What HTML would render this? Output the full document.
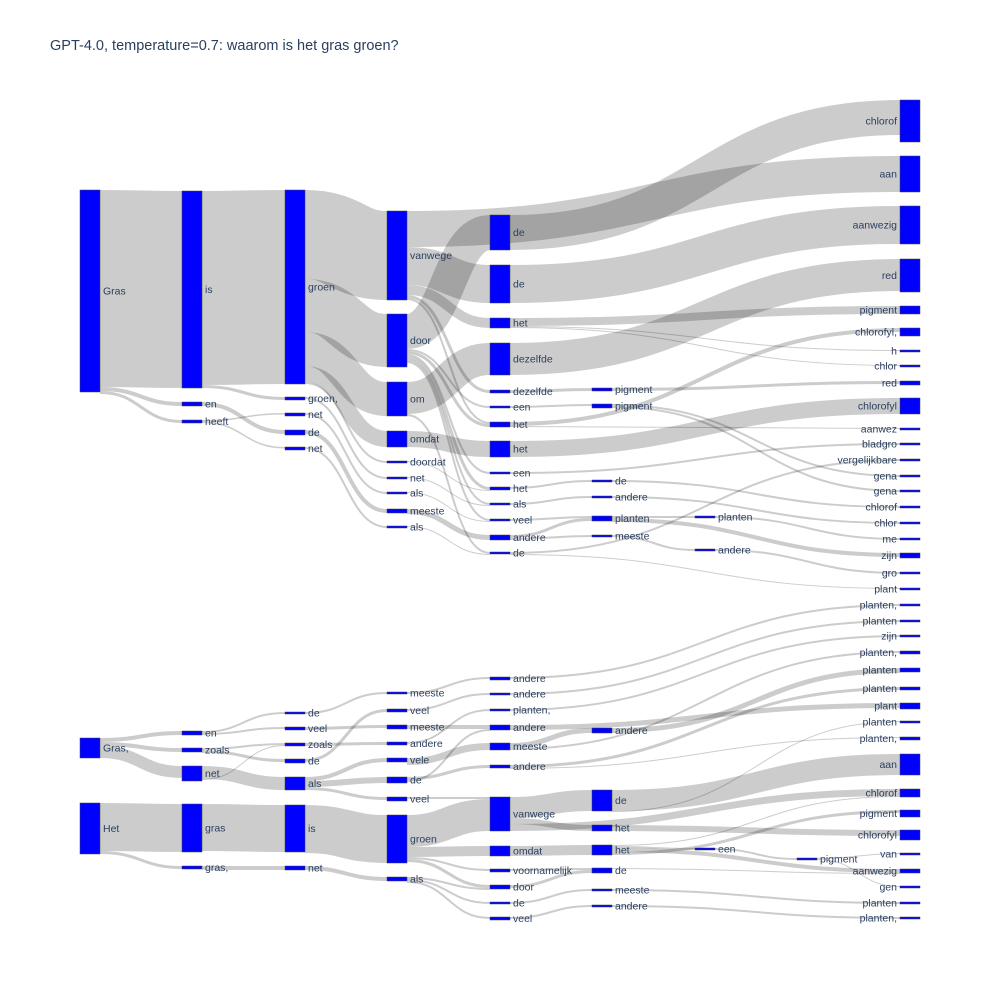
<!DOCTYPE html>
<html><head><meta charset="utf-8"><style>
html,body{margin:0;padding:0;background:#fff}
svg{display:block}
text{font-family:"Liberation Sans",Arial,sans-serif;font-size:10.5px;fill:#2a3f5f}
</style></head><body>
<svg id="s" width="1000" height="1000" xmlns="http://www.w3.org/2000/svg">
<text x="50" y="50" style="font-size:14.5px">GPT-4.0, temperature=0.7: waarom is het gras groen?</text>
<g id="L"></g><g id="N"></g>
</svg>
<script>
const X=[80,182,285,387,490,592,695,797,900];
const nodes={};
function n(id,c,y0,y1,l){nodes[id]={c:c,y0:y0,y1:Math.max(y1,y0+2),l:l,so:0,to:0};}
n('A',0,190,392,'Gras');n('B',0,738,758,'Gras,');n('C',0,803,854,'Het');
n('D',1,191,388,'is');n('E',1,402,406,'en');n('F',1,420,423,'heeft');n('G',1,731,735,'en');n('H',1,748,752,'zoals');n('I',1,766,781,'net');n('J',1,804,852,'gras');n('K',1,866,869,'gras,');
n('L',2,190,384,'groen');n('M',2,397,400,'groen,');n('N2',2,413,416,'net');n('O',2,430,435,'de');n('P',2,447,450,'net');n('Q',2,712,714,'de');n('R',2,727,730,'veel');n('S',2,743,746,'zoals');n('T',2,759,763,'de');n('U',2,777,790,'als');n('V',2,805,852,'is');n('W',2,866,870,'net');
n('X3',3,211,300,'vanwege');n('Y3',3,314,367,'door');n('Z3',3,382,416,'om');n('AA',3,431,447,'omdat');n('AB',3,461,463,'doordat');n('AC',3,477,479,'net');n('AD',3,492,494,'als');n('AE',3,509,513,'meeste');n('AF',3,526,528,'als');n('AG',3,692,694,'meeste');n('AH',3,709,712,'veel');n('AI',3,725,729,'meeste');n('AJ',3,742,745,'andere');n('AK',3,758,762,'vele');n('AL',3,777,783,'de');n('AM',3,797,801,'veel');n('AN',3,815,863,'groen');n('AO',3,877,881,'als');
n('b1',4,215,250,'de');n('b2',4,265,303,'de');n('b3',4,318,328,'het');n('b4',4,343,375,'dezelfde');n('b5',4,390,393,'dezelfde');n('b6',4,406,408,'een');n('b7',4,422,427,'het');n('b8',4,441,457,'het');n('b9',4,472,474,'een');n('b10',4,487,490,'het');n('b11',4,503,505,'als');n('b12',4,519,521,'veel');n('b13',4,535,540,'andere');n('b14',4,552,554,'de');
n('b15',4,677,680,'andere');n('b16',4,693,695,'andere');n('b17',4,709,711,'planten,');n('b18',4,725,730,'andere');n('b19',4,743,750,'meeste');n('b20',4,765,768,'andere');n('b21',4,797,831,'vanwege');n('b22',4,846,856,'omdat');n('b23',4,869,872,'voornamelijk');n('b24',4,885,889,'door');n('b25',4,902,904,'de');n('b26',4,917,920,'veel');
n('c1',5,388,391,'pigment');n('c2',5,404,408,'pigment');n('c3',5,480,482,'de');n('c4',5,496,498,'andere');n('c5',5,516,521,'planten');n('c6',5,535,537,'meeste');n('c7',5,728,733,'andere');n('c8',5,790,811,'de');n('c9',5,825,831,'het');n('c10',5,845,855,'het');n('c11',5,868,873,'de');n('c12',5,889,891,'meeste');n('c13',5,905,907,'andere');
n('d1',6,516,518,'planten');n('d2',6,549,551,'andere');n('d3',6,848,850,'een');n('e1',7,858,860,'pigment');
const R=[[100,142,'chlorof'],[156,192,'aan'],[206,244,'aanwezig'],[259,292,'red'],[306,314,'pigment'],[328,336,'chlorofyl,'],[350,352,'h'],[365,367,'chlor'],[381,385,'red'],[398,414,'chlorofyl'],[428,430,'aanwez'],[443,445,'bladgro'],[459,461,'vergelijkbare'],[475,477,'gena'],[490,492,'gena'],[506,508,'chlorof'],[522,524,'chlor'],[538,540,'me'],[553,558,'zijn'],[572,574,'gro'],[588,590,'plant'],[604,606,'planten,'],[620,622,'planten'],[635,637,'zijn'],[651,654,'planten,'],[668,672,'planten'],[687,690,'planten'],[703,709,'plant'],[721,723,'planten'],[737,740,'planten,'],[754,775,'aan'],[789,797,'chlorof'],[810,817,'pigment'],[830,840,'chlorofyl'],[853,855,'van'],[869,873,'aanwezig'],[886,888,'gen'],[902,904,'planten'],[917,919,'planten,']];
R.forEach((r,i)=>n('z'+i,8,r[0],r[1],r[2]));
const links=[
['A','D',197],['A','E',4],['A','F',3],['D','L',194],['D','M',3],['E','O',4],['F','N2',1.5],['F','P',1.5],
['L','X3',89],['L','Y3',53],['L','Z3',34],['L','AA',16],['L','AB',2],['M','AC',2],['N2','AD',2],['O','AE',4],['P','AF',2],
['X3','z1',36],['X3','b2',38],['X3','b3',10],['X3','b5',3],['X3','b7',2],
['Y3','b1',35],['Y3','b6',2],['Y3','b7',3],['Y3','b9',2],['Y3','b10',3],['Y3','b11',2],['Y3','b12',2],
['Z3','b4',32],['Z3','b14',2],['AA','b8',16],['AB','b10',1],['AC','b11',1],['AD','b12',1],['AE','b13',5],['AF','b14',1],
['b1','z0',35],['b2','z2',38],['b3','z4',8],['b3','z6',1],['b3','z7',1],['b4','z3',32],['b5','c1',3],['b6','c2',2],['b7','z5',4],['b7','z10',1],
['b8','z9',16],['b9','z11',2],['b10','c3',2],['b11','c4',2],['b12','c5',2],['b13','c5',3],['b13','c6',2],['b14','z12',2],
['c1','z8',3],['c2','z13',2],['c2','z14',2],['c3','z15',2],['c4','z16',2],['c5','d1',2],['c5','z18',4],['c6','d2',2],['d1','z17',2],['d2','z19',2],['b14','z20',1],
['B','G',4],['B','H',4],['B','I',12],['C','J',48],['C','K',3],
['G','Q',2],['G','R',2],['H','S',2],['H','T',3],['I','U',13],['I','S',1],['J','V',47],['K','W',4],
['Q','AG',2],['R','AI',3],['S','AJ',3],['T','AH',3],['U','AK',4],['U','AL',6],['U','AM',3],['V','AN',48],['W','AO',4],
['AG','b15',2],['AH','b16',2],['AI','b18',4],['AJ','b17',2],['AK','b19',7],['AL','b20',3],['AL','b18',2],['AM','b21',2],
['AN','b21',32],['AN','b22',10],['AN','b23',2],['AN','b24',3],['AO','b24',2],['AO','b25',2],['AO','b26',2],
['b15','z21',2],['b16','z22',2],['b17','z23',2],['b18','z27',5],['b19','c7',5],['b19','z24',2],['b20','z26',3],
['c7','z25',5],['b21','c8',21],['b21','c9',6],['b21','z31',7],['b22','c10',10],['c8','z30',21],['c9','z33',6],['c8','z28',1],['c10','z31',1],
['c10','d3',2],['c10','z35',4],['d3','e1',2],['e1','z34',1],['e1','z36',1],['b23','c11',2],['b24','c11',3],['c11','z35',1],['b25','c12',2],['b26','c13',2],['c12','z37',2],['c13','z38',2],['c10','z32',3],['b20','z29',1]
];
const NS='http://www.w3.org/2000/svg';
const Lg=document.getElementById('L'),Ng=document.getElementById('N');
links.forEach(([s,t,w])=>{const a=nodes[s],b=nodes[t];
 const x0=X[a.c]+20,x1=X[b.c];const y0=a.y0+a.so+w/2,y1=b.y0+b.to+w/2;a.so+=w;b.to+=w;
 const xm=(x0+x1)/2;const p=document.createElementNS(NS,'path');
 p.setAttribute('d',`M${x0},${y0}C${xm},${y0} ${xm},${y1} ${x1},${y1}`);
 p.setAttribute('fill','none');p.setAttribute('stroke','rgba(0,0,0,0.2)');p.setAttribute('stroke-width',Math.max(w,1));Lg.appendChild(p);});
for(const k in nodes){const d=nodes[k];const r=document.createElementNS(NS,'rect');
 r.setAttribute('x',X[d.c]);r.setAttribute('y',d.y0);r.setAttribute('width',20);r.setAttribute('height',d.y1-d.y0);
 r.setAttribute('fill','#0000ff');r.setAttribute('stroke','#444');r.setAttribute('stroke-width','0.5');Ng.appendChild(r);
 const t=document.createElementNS(NS,'text');const ym=(d.y0+d.y1)/2+3.5;
 if(d.c==8){t.setAttribute('x',X[8]-3);t.setAttribute('text-anchor','end');}else t.setAttribute('x',X[d.c]+23);
 t.setAttribute('y',ym);t.textContent=d.l;Ng.appendChild(t);}
</script>
</body></html>
